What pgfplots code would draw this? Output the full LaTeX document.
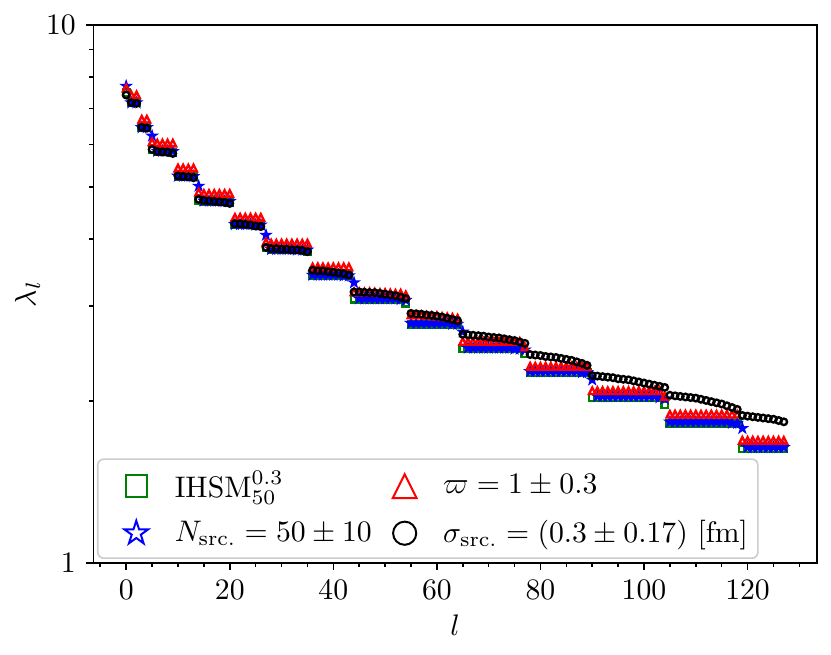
\documentclass[border=0pt]{standalone}
\usepackage{pgfplots}
\pgfplotsset{compat=1.18}
\definecolor{mgreen}{rgb}{0,0.5,0}
\pgfdeclareplotmark{mpltri}{%
  \pgfpathmoveto{\pgfqpoint{0pt}{\pgfplotmarksize}}%
  \pgfpathlineto{\pgfqpoint{-\pgfplotmarksize}{-\pgfplotmarksize}}%
  \pgfpathlineto{\pgfqpoint{\pgfplotmarksize}{-\pgfplotmarksize}}%
  \pgfpathclose\pgfusepathqstroke}
\pgfdeclareplotmark{mplstar}{%
  \pgfpathmoveto{\pgfpointpolar{90}{\pgfplotmarksize}}%
  \pgfpathlineto{\pgfpointpolar{126}{0.381966*\pgfplotmarksize}}%
  \pgfpathlineto{\pgfpointpolar{162}{\pgfplotmarksize}}%
  \pgfpathlineto{\pgfpointpolar{198}{0.381966*\pgfplotmarksize}}%
  \pgfpathlineto{\pgfpointpolar{234}{\pgfplotmarksize}}%
  \pgfpathlineto{\pgfpointpolar{270}{0.381966*\pgfplotmarksize}}%
  \pgfpathlineto{\pgfpointpolar{306}{\pgfplotmarksize}}%
  \pgfpathlineto{\pgfpointpolar{342}{0.381966*\pgfplotmarksize}}%
  \pgfpathlineto{\pgfpointpolar{18}{\pgfplotmarksize}}%
  \pgfpathlineto{\pgfpointpolar{54}{0.381966*\pgfplotmarksize}}%
  \pgfpathclose\pgfusepathqstroke}
\begin{document}
\begin{tikzpicture}[font=\fontsize{10}{12}\selectfont]
\begin{axis}[
  scale only axis, width=243.42pt, height=181.04pt,
  xmin=-6.35, xmax=133.35, ymin=1, ymax=10, ymode=log,
  xtick={0,20,...,120}, minor xtick={-5,0,...,130},
  ytick={1,10}, yticklabels={$1$,$10$}, minor ytick={2,3,4,5,6,7,8,9},
  tick align=outside, xtick pos=bottom, ytick pos=left,
  major tick length=2.36pt, minor tick length=1.35pt,
  tick style={line width=0.54pt, black},
  axis line style={line width=0.54pt},
  xlabel={$l$}, ylabel={$\lambda_l$},
  xlabel style={at={(axis description cs:0.5,-0.1152)}, anchor=center},
  ylabel style={at={(axis description cs:-0.091,0.5)}, anchor=center},
  legend columns=2, legend cell align=left,
  legend image code/.code={%
    \path[draw=none,fill=none] (0pt,-0.1cm) rectangle (22.6pt,0.1cm);
    \draw[mark repeat=2,mark phase=2,#1] plot coordinates {(0pt,0cm) (11.1pt,0cm) (22.2pt,0cm)};},
  legend style={at={(axis description cs:0.0051,0.0074)}, anchor=south west,
    draw=black!20, line width=0.54pt, rounded corners=2pt, fill=white,
    inner xsep=1.85pt, inner ysep=2.0pt, row sep=2.35pt,
    /tikz/every even column/.append style={column sep=-1.5pt},
    nodes={inner xsep=1.45pt, inner ysep=1.9pt}},
]
\addplot[only marks, mark=square, mark size=1.1pt, color=mgreen, line width=0.8pt, forget plot] coordinates {
(0,7.49)(1,7.16)(2,7.16)(3,6.44)(4,6.44)(5,5.87)(6,5.82)(7,5.82)(8,5.82)(9,5.79)
(10,5.23)(11,5.23)(12,5.23)(13,5.22)(14,4.72)(15,4.70)(16,4.70)(17,4.70)(18,4.70)(19,4.70)(20,4.68)
(21,4.25)(22,4.25)(23,4.25)(24,4.25)(25,4.24)(26,4.24)(27,3.85)(28,3.82)(29,3.82)(30,3.82)
(31,3.82)(32,3.82)(33,3.82)(34,3.82)(35,3.80)(36,3.42)(37,3.42)(38,3.42)(39,3.42)(40,3.42)
(41,3.42)(42,3.42)(43,3.42)(44,3.09)(45,3.09)(46,3.09)(47,3.09)(48,3.09)(49,3.09)(50,3.09)
(51,3.09)(52,3.09)(53,3.09)(54,3.04)(55,2.78)(56,2.78)(57,2.78)(58,2.78)(59,2.78)(60,2.78)
(61,2.78)(62,2.78)(63,2.78)(64,2.78)(65,2.50)(66,2.50)(67,2.50)(68,2.50)(69,2.50)(70,2.50)
(71,2.50)(72,2.50)(73,2.50)(74,2.50)(75,2.50)(76,2.50)(77,2.45)(78,2.26)(79,2.26)(80,2.26)
(81,2.26)(82,2.26)(83,2.26)(84,2.26)(85,2.26)(86,2.26)(87,2.26)(88,2.26)(89,2.26)(90,2.03)
(91,2.03)(92,2.03)(93,2.03)(94,2.03)(95,2.03)(96,2.03)(97,2.03)(98,2.03)(99,2.03)(100,2.03)
(101,2.03)(102,2.03)(103,2.03)(104,1.97)(105,1.82)(106,1.82)(107,1.82)(108,1.82)(109,1.82)
(110,1.82)(111,1.82)(112,1.82)(113,1.82)(114,1.82)(115,1.82)(116,1.82)(117,1.82)(118,1.82)
(119,1.63)(120,1.63)(121,1.63)(122,1.63)(123,1.63)(124,1.63)(125,1.63)(126,1.63)(127,1.63)
};
\addplot[only marks, mark=mplstar, mark size=1.15pt, color=blue, line width=0.8pt, forget plot] coordinates {
(0,7.70)(1,7.17)(2,7.17)(3,6.45)(4,6.45)(5,6.22)(6,5.83)(7,5.83)(8,5.83)(9,5.82)
(10,5.24)(11,5.24)(12,5.24)(13,5.23)(14,5.02)(15,4.71)(16,4.71)(17,4.71)(18,4.71)(19,4.70)(20,4.70)
(21,4.26)(22,4.26)(23,4.26)(24,4.26)(25,4.25)(26,4.25)(27,4.07)(28,3.83)(29,3.83)(30,3.83)
(31,3.83)(32,3.83)(33,3.82)(34,3.82)(35,3.82)(36,3.43)(37,3.43)(38,3.43)(39,3.43)(40,3.43)
(41,3.43)(42,3.42)(43,3.42)(44,3.32)(45,3.10)(46,3.10)(47,3.10)(48,3.10)(49,3.10)(50,3.10)
(51,3.10)(52,3.10)(53,3.09)(54,3.08)(55,2.79)(56,2.79)(57,2.79)(58,2.79)(59,2.79)(60,2.79)
(61,2.79)(62,2.79)(63,2.78)(64,2.78)(65,2.69)(66,2.51)(67,2.51)(68,2.51)(69,2.51)(70,2.51)
(71,2.51)(72,2.51)(73,2.51)(74,2.51)(75,2.50)(76,2.50)(77,2.49)(78,2.27)(79,2.27)(80,2.27)
(81,2.27)(82,2.27)(83,2.27)(84,2.27)(85,2.27)(86,2.27)(87,2.27)(88,2.26)(89,2.26)(90,2.19)
(91,2.04)(92,2.04)(93,2.04)(94,2.04)(95,2.04)(96,2.04)(97,2.04)(98,2.04)(99,2.04)(100,2.04)
(101,2.04)(102,2.04)(103,2.03)(104,2.02)(105,1.83)(106,1.83)(107,1.83)(108,1.83)(109,1.83)
(110,1.83)(111,1.83)(112,1.83)(113,1.83)(114,1.83)(115,1.83)(116,1.83)(117,1.82)(118,1.82)
(119,1.78)(120,1.64)(121,1.64)(122,1.64)(123,1.64)(124,1.64)(125,1.64)(126,1.64)(127,1.64)
};
\addplot[only marks, mark=mpltri, mark size=1.1pt, color=red, line width=0.8pt, forget plot] coordinates {
(0,7.63)(1,7.41)(2,7.41)(3,6.68)(4,6.68)(5,6.06)(6,6.03)(7,6.03)(8,6.03)(9,6.03)
(10,5.42)(11,5.42)(12,5.42)(13,5.42)(14,4.89)(15,4.86)(16,4.86)(17,4.86)(18,4.86)(19,4.86)(20,4.86)
(21,4.39)(22,4.39)(23,4.39)(24,4.39)(25,4.39)(26,4.39)(27,3.95)(28,3.93)(29,3.93)(30,3.93)
(31,3.93)(32,3.93)(33,3.93)(34,3.93)(35,3.93)(36,3.55)(37,3.55)(38,3.55)(39,3.55)(40,3.55)
(41,3.55)(42,3.55)(43,3.55)(44,3.19)(45,3.19)(46,3.19)(47,3.19)(48,3.185)(49,3.18)(50,3.18)
(51,3.175)(52,3.17)(53,3.17)(54,3.15)(55,2.89)(56,2.89)(57,2.89)(58,2.885)(59,2.88)(60,2.88)
(61,2.87)(62,2.865)(63,2.86)(64,2.85)(65,2.58)(66,2.58)(67,2.58)(68,2.58)(69,2.58)(70,2.58)
(71,2.58)(72,2.58)(73,2.58)(74,2.58)(75,2.58)(76,2.58)(77,2.52)(78,2.32)(79,2.32)(80,2.32)
(81,2.32)(82,2.32)(83,2.32)(84,2.32)(85,2.32)(86,2.32)(87,2.32)(88,2.32)(89,2.32)(90,2.09)
(91,2.09)(92,2.09)(93,2.09)(94,2.09)(95,2.09)(96,2.09)(97,2.09)(98,2.09)(99,2.09)(100,2.09)
(101,2.09)(102,2.09)(103,2.09)(104,2.04)(105,1.89)(106,1.89)(107,1.89)(108,1.89)(109,1.89)
(110,1.89)(111,1.89)(112,1.89)(113,1.89)(114,1.89)(115,1.89)(116,1.89)(117,1.89)(118,1.89)
(119,1.69)(120,1.69)(121,1.69)(122,1.69)(123,1.69)(124,1.69)(125,1.69)(126,1.69)(127,1.69)
};
\addplot[only marks, mark=o, mark size=1.1pt, color=black, line width=0.8pt, forget plot] coordinates {
(0,7.41)(1,7.17)(2,7.15)(3,6.45)(4,6.43)(5,5.87)(6,5.82)(7,5.81)(8,5.80)(9,5.77)
(10,5.24)(11,5.23)(12,5.22)(13,5.20)(14,4.74)(15,4.72)(16,4.71)(17,4.70)(18,4.69)(19,4.68)(20,4.66)
(21,4.27)(22,4.27)(23,4.26)(24,4.25)(25,4.23)(26,4.22)(27,3.86)(28,3.84)(29,3.84)(30,3.83)
(31,3.83)(32,3.82)(33,3.82)(34,3.81)(35,3.79)(36,3.50)(37,3.49)(38,3.49)(39,3.48)(40,3.47)
(41,3.46)(42,3.45)(43,3.43)(44,3.19)(45,3.19)(46,3.185)(47,3.18)(48,3.18)(49,3.17)(50,3.16)
(51,3.15)(52,3.14)(53,3.12)(54,3.10)(55,2.91)(56,2.905)(57,2.90)(58,2.89)(59,2.885)(60,2.875)
(61,2.865)(62,2.85)(63,2.835)(64,2.82)(65,2.66)(66,2.655)(67,2.65)(68,2.645)(69,2.64)(70,2.63)
(71,2.625)(72,2.62)(73,2.61)(74,2.60)(75,2.59)(76,2.575)(77,2.56)(78,2.44)(79,2.435)(80,2.43)
(81,2.42)(82,2.415)(83,2.41)(84,2.40)(85,2.39)(86,2.38)(87,2.365)(88,2.35)(89,2.33)(90,2.23)
(91,2.225)(92,2.22)(93,2.215)(94,2.21)(95,2.20)(96,2.195)(97,2.19)(98,2.18)(99,2.17)(100,2.16)
(101,2.15)(102,2.14)(103,2.13)(104,2.12)(105,2.05)(106,2.045)(107,2.04)(108,2.035)(109,2.03)
(110,2.025)(111,2.015)(112,2.005)(113,1.995)(114,1.985)(115,1.975)(116,1.96)(117,1.945)(118,1.93)
(119,1.88)(120,1.875)(121,1.87)(122,1.865)(123,1.86)(124,1.855)(125,1.85)(126,1.84)(127,1.83)
};
\addlegendimage{only marks, mark=square, mark size=3.6pt, color=mgreen, line width=0.67pt}
\addlegendentry{$\mathrm{IHSM}^{0.3}_{50}$}
\addlegendimage{only marks, mark=mpltri, mark size=4.0pt, color=red, line width=0.67pt}
\addlegendentry{$\varpi = 1 \pm 0.3$}
\addlegendimage{only marks, mark=mplstar, mark size=4.2pt, color=blue, line width=0.67pt}
\addlegendentry{$N_{\mathrm{src.}} = 50 \pm 10$}
\addlegendimage{only marks, mark=o, mark size=3.9pt, color=black, line width=0.67pt}
\addlegendentry{$\sigma_{\mathrm{src.}} = (0.3 \pm 0.17)~[\mathrm{fm}]$}
\end{axis}
\pgfresetboundingbox
\path ([xshift=-31.40pt,yshift=-30.96pt]current axis.south west) rectangle ([xshift=4.81pt,yshift=8.41pt]current axis.north east);
\end{tikzpicture}
\end{document}
